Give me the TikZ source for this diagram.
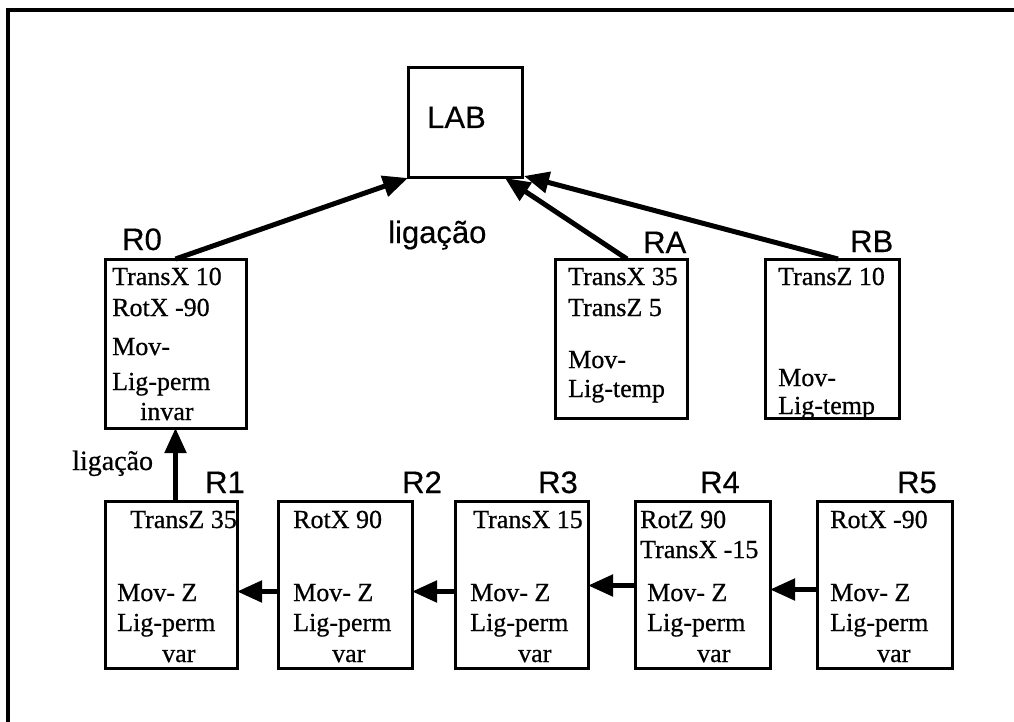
\documentclass[tikz,border=0pt]{standalone}
\usepackage{fontspec}
\setmainfont{Liberation Serif}[FakeBold=0.6]
\newfontfamily\labfont{Liberation Sans}[FakeBold=0.4]
\usetikzlibrary{arrows.meta}

\tikzset{
  rbox/.style={draw, line width=3pt, inner sep=0pt, outer sep=0pt, anchor=north west},
  txt/.style={anchor=base west, inner sep=0pt, font=\fontsize{26}{31}\selectfont},
  lbl/.style={anchor=base west, inner sep=0pt, font=\labfont\fontsize{31}{36}\selectfont},
  conn/.style={line width=5pt, -{Triangle[length=25pt,width=21pt]}},
  frame/.style={line width=3.5pt}
}

\begin{document}
\begin{tikzpicture}[x=1pt, y=-1pt]
\useasboundingbox (0,0) rectangle (1014,722);

% outer frame (only top and left edges fall inside the page)
\draw[frame] (8,722) -- (8,10) -- (1014,10);

% the laboratory frame
\node[rbox, minimum width=114pt, minimum height=110pt] (lab) at (408,68) {};
\node[lbl] (labt) at (427,128) {LAB};

% upper row of frames
\node[rbox, minimum width=141pt, minimum height=169pt] (r0) at (105,259) {};
\node[rbox, minimum width=132pt, minimum height=159pt] (ra) at (555,259) {};
\node[rbox, minimum width=134pt, minimum height=159pt] (rb) at (765,259) {};

% lower chain of frames
\node[rbox, minimum width=132pt, minimum height=167pt] (r1) at (105,501) {};
\node[rbox, minimum width=134pt, minimum height=167pt] (r2) at (278,501) {};
\node[rbox, minimum width=133pt, minimum height=167pt] (r3) at (455,501) {};
\node[rbox, minimum width=135pt, minimum height=167pt] (r4) at (635,501) {};
\node[rbox, minimum width=135pt, minimum height=167pt] (r5) at (817,501) {};

% frame names
\node[lbl] (r0n) at (122,250) {R0};
\node[lbl] (ran) at (643,253) {RA};
\node[lbl] (rbn) at (850,252) {RB};
\node[lbl] (r1n) at (205,493) {R1};
\node[lbl] (r2n) at (402,493) {R2};
\node[lbl] (r3n) at (538,493) {R3};
\node[lbl] (r4n) at (700,493) {R4};
\node[lbl] (r5n) at (897,493) {R5};

% contents of the upper frames
\foreach \x/\y/\t [count=\i] in {112/285/TransX 10, 112/316/RotX -90, 112/355/Mov-, 112/390/Lig-perm, 140/420/invar}
  \node[txt] (r0t\i) at (\x,\y) {\t};
\foreach \x/\y/\t [count=\i] in {568/285/TransX 35, 568/316/TransZ 5, 568/368/Mov-, 568/397/Lig-temp}
  \node[txt] (rat\i) at (\x,\y) {\t};
\foreach \x/\y/\t [count=\i] in {778/285/TransZ 10, 778/386/Mov-, 778/414/Lig-temp}
  \node[txt] (rbt\i) at (\x,\y) {\t};

% contents of the lower frames
\foreach \x/\y/\t [count=\i] in {130/528/TransZ 35, 117/601/Mov- Z, 117/631/Lig-perm, 162/662/var}
  \node[txt] (r1t\i) at (\x,\y) {\t};
\foreach \x/\y/\t [count=\i] in {293/528/RotX 90, 293/601/Mov- Z, 293/631/Lig-perm, 332/662/var}
  \node[txt] (r2t\i) at (\x,\y) {\t};
\foreach \x/\y/\t [count=\i] in {473/528/TransX 15, 470/601/Mov- Z, 470/631/Lig-perm, 518/662/var}
  \node[txt] (r3t\i) at (\x,\y) {\t};
\foreach \x/\y/\t [count=\i] in {640/528/RotZ 90, 640/558/TransX -15, 647/601/Mov- Z, 647/631/Lig-perm, 697/662/var}
  \node[txt] (r4t\i) at (\x,\y) {\t};
\foreach \x/\y/\t [count=\i] in {830/528/RotX -90, 830/601/Mov- Z, 830/631/Lig-perm, 877/662/var}
  \node[txt] (r5t\i) at (\x,\y) {\t};

% links to the laboratory
\draw[conn] (r0.north) -- (lab.south west);
\draw[conn] ([xshift=6pt]ra.north) -- ([xshift=-17pt]lab.south east);
\draw[conn] ([xshift=6pt]rb.north) -- ([xshift=2pt,yshift=2pt]lab.south east);
\node[lbl] (lig1) at (388,243) {ligação};

% chain links
\draw[conn] ([xshift=4.5pt]r1.north) -- (r0.south);
\node[txt, font=\fontsize{28}{32}\selectfont] (lig2) at (72,470) {ligação};
\draw[conn] ([yshift=-7pt]r2.west) -- ([yshift=-7pt]r1.east);
\draw[conn] ([yshift=-7pt]r3.west) -- ([yshift=-7pt]r2.east);
\draw[conn] ([yshift=-1pt]r4.west) -- ([yshift=-1pt]r3.east);
\draw[conn] ([yshift=-5pt]r5.west) -- ([yshift=-5pt]r4.east);
\end{tikzpicture}
\end{document}
